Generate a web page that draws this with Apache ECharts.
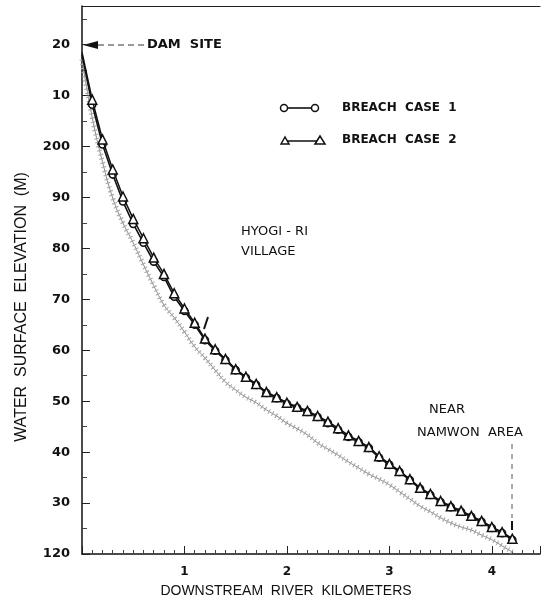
<!DOCTYPE html>
<html>
<head>
<meta charset="utf-8">
<script src="https://cdn.jsdelivr.net/npm/echarts@6/dist/echarts.min.js"></script>
<style>
  html, body { margin: 0; padding: 0; background: #fff; }
  #chart { width: 544px; height: 603px; }
</style>
</head>
<body>
<div id="chart"></div>
<script>
// distance downstream (km)
const km = [0, 0.1, 0.2, 0.3, 0.4, 0.5, 0.6, 0.7, 0.8, 0.9, 1.0, 1.1, 1.2, 1.3, 1.4, 1.5, 1.6, 1.7, 1.8, 1.9,
  2.0, 2.1, 2.2, 2.3, 2.4, 2.5, 2.6, 2.7, 2.8, 2.9, 3.0, 3.1, 3.2, 3.3, 3.4, 3.5, 3.6, 3.7, 3.8, 3.9, 4.0, 4.1, 4.2]
// water surface elevation (m)
const case1 = [218.0, 208.2, 200.4, 194.5, 189.2, 184.8, 181.1, 177.4, 174.4, 170.5, 167.7, 165.0, 162.0, 159.9, 158.1,
  156.1, 154.6, 153.2, 151.6, 150.6, 149.5, 148.7, 147.9, 146.9, 145.7, 144.4, 143.0, 142.0, 140.8, 138.9, 137.5,
  136.1, 134.5, 132.8, 131.6, 130.2, 129.2, 128.3, 127.3, 126.3, 125.1, 124.1, 122.8]
const case2 = [218.5, 209.2, 201.4, 195.5, 190.2, 185.8, 182.0, 178.2, 175.0, 171.2, 168.2, 165.4, 162.3, 160.2, 158.3,
  156.3, 154.8, 153.4, 151.8, 150.8, 149.7, 148.9, 148.1, 147.1, 146.0, 144.7, 143.3, 142.2, 141.0, 139.2, 137.7,
  136.3, 134.7, 133.0, 131.8, 130.4, 129.4, 128.5, 127.5, 126.5, 125.3, 124.3, 123.0]
// hatched lower profile
const bed = [217.1, 205.7, 197.0, 189.9, 185.0, 181.1, 176.8, 172.7, 168.9, 166.4, 163.6, 160.7, 158.5, 156.1, 153.8,
  152.2, 150.8, 149.7, 148.3, 147.1, 145.7, 144.6, 143.4, 141.8, 140.6, 139.4, 138.1, 136.9, 135.7, 134.7, 133.6,
  132.2, 130.8, 129.4, 128.3, 127.1, 126.1, 125.3, 124.7, 123.7, 122.8, 121.6, 120.4]
// y tick labels as printed on the figure
const yTicks = [120, 130, 140, 150, 160, 170, 180, 190, 200, 210, 220]
const yTickText = ['120', '30', '40', '50', '60', '70', '80', '90', '200', '10', '20']

const chart = echarts.init(document.getElementById('chart'))
const pairs = (ys) => km.map((x, i) => [x, ys[i]])
const withMarks = (ys) => pairs(ys).map((p, i) => i === 0 ? { value: p, symbol: 'none' } : p)
const boldFont = 'bold 13px "DejaVu Sans"'

chart.setOption({
  animation: false,
  grid: { left: 82, top: 6, right: 4, bottom: 49 },
  xAxis: [{
    type: 'value',
    min: 0,
    max: 4.47,
    interval: 1,
    name: 'DOWNSTREAM  RIVER  KILOMETERS',
    nameLocation: 'middle',
    nameGap: 30,
    nameTextStyle: { fontFamily: 'Liberation Sans', fontSize: 14, color: '#111', padding: [0, 50, 0, 0] },
    axisLine: { lineStyle: { color: '#111', width: 1.5 } },
    axisTick: { inside: true, length: 8, lineStyle: { color: '#222' } },
    minorTick: { show: true, splitNumber: 10, length: 4, lineStyle: { color: '#444' } },
    axisLabel: {
      margin: 12, color: '#111', fontFamily: 'DejaVu Sans', fontWeight: 'bold', fontSize: 12,
      formatter: (v) => (v > 0 && Math.abs(v - Math.round(v)) < 1e-6 ? String(Math.round(v)) : ''),
      showMaxLabel: false
    },
    splitLine: { show: false }
  }, {
    type: 'value', position: 'top', min: 0, max: 4.47,
    axisLine: { show: true, lineStyle: { color: '#222', width: 1.2 } },
    axisTick: { show: false }, axisLabel: { show: false }, splitLine: { show: false }
  }],
  yAxis: {
    type: 'value',
    min: 120,
    max: 227.6,
    interval: 10,
    axisLine: { show: true, lineStyle: { color: '#111', width: 1.5 } },
    axisTick: { inside: true, length: 8, lineStyle: { color: '#222' } },
    minorTick: { show: true, splitNumber: 2, length: 5, lineStyle: { color: '#444' } },
    axisLabel: {
      margin: 12, color: '#111', fontFamily: 'DejaVu Sans', fontWeight: 'bold', fontSize: 13,
      showMaxLabel: false,
      formatter: (v) => {
        const i = yTicks.indexOf(Math.round(v))
        return i >= 0 && Math.abs(v - Math.round(v)) < 1e-6 ? yTickText[i] : ''
      }
    },
    splitLine: { show: false }
  },
  series: [
    {
      name: 'bed line',
      type: 'line',
      data: pairs(bed),
      showSymbol: false,
      smooth: true,
      lineStyle: { color: '#888', width: 1 },
      z: 1
    },
    {
      name: 'bed hatch',
      type: 'line',
      data: pairs(bed),
      showSymbol: false,
      smooth: true,
      lineStyle: { color: '#aaa', width: 5, type: [1.2, 3] },
      z: 1
    },
    {
      name: 'BREACH CASE 1',
      type: 'line',
      data: withMarks(case1),
      symbol: 'circle',
      symbolSize: 7,
      itemStyle: { color: '#fff', borderColor: '#111', borderWidth: 1.6 },
      lineStyle: { color: '#111', width: 1.6 },
      z: 3
    },
    {
      name: 'BREACH CASE 2',
      type: 'line',
      data: withMarks(case2),
      symbol: 'triangle',
      symbolSize: 9,
      itemStyle: { color: '#fff', borderColor: '#111', borderWidth: 1.5 },
      lineStyle: { color: '#111', width: 1.5 },
      z: 4
    }
  ],
  graphic: [
    // y axis title
    { type: 'text', x: 22, y: 307, rotation: Math.PI / 2,
      style: { text: 'WATER  SURFACE  ELEVATION  (M)', font: '16px "Liberation Sans"', fill: '#111', textAlign: 'center', textVerticalAlign: 'middle' } },
    // legend
    { type: 'line', shape: { x1: 284, y1: 108, x2: 315, y2: 108 }, style: { stroke: '#111', lineWidth: 1.6 } },
    { type: 'circle', shape: { cx: 284, cy: 108, r: 3.5 }, style: { fill: '#fff', stroke: '#111', lineWidth: 1.5 } },
    { type: 'circle', shape: { cx: 315, cy: 108, r: 3.5 }, style: { fill: '#fff', stroke: '#111', lineWidth: 1.5 } },
    { type: 'text', x: 342, y: 108, style: { text: 'BREACH  CASE  1', font: 'bold 12px "DejaVu Sans"', fill: '#111', textVerticalAlign: 'middle' } },
    { type: 'line', shape: { x1: 285, y1: 141, x2: 320, y2: 141 }, style: { stroke: '#111', lineWidth: 1.6 } },
    { type: 'polygon', shape: { points: [[281, 144], [285, 137], [289, 144]] }, style: { fill: '#fff', stroke: '#111', lineWidth: 1.5 } },
    { type: 'polygon', shape: { points: [[315, 144], [320, 136], [325, 144]] }, style: { fill: '#fff', stroke: '#111', lineWidth: 1.5 } },
    { type: 'text', x: 342, y: 140, style: { text: 'BREACH  CASE  2', font: 'bold 12px "DejaVu Sans"', fill: '#111', textVerticalAlign: 'middle' } },
    // dam site
    { type: 'polygon', shape: { points: [[83, 45], [98, 41], [98, 49]] }, style: { fill: '#111' } },
    { type: 'line', shape: { x1: 98, y1: 45, x2: 144, y2: 45 }, style: { stroke: '#333', lineWidth: 1, lineDash: [6, 4] } },
    { type: 'text', x: 147, y: 45, style: { text: 'DAM  SITE', font: boldFont, fill: '#111', textVerticalAlign: 'middle' } },
    // Hyogi-ri
    { type: 'text', x: 241, y: 232, style: { text: 'HYOGI - RI', font: '13px "DejaVu Sans"', fill: '#111', textVerticalAlign: 'middle' } },
    { type: 'text', x: 241, y: 252, style: { text: 'VILLAGE', font: '13px "DejaVu Sans"', fill: '#111', textVerticalAlign: 'middle' } },
    { type: 'line', shape: { x1: 204, y1: 329, x2: 208, y2: 317 }, style: { stroke: '#111', lineWidth: 2 } },
    // Namwon
    { type: 'text', x: 447, y: 410, style: { text: 'NEAR', font: '13px "DejaVu Sans"', fill: '#111', textAlign: 'center', textVerticalAlign: 'middle' } },
    { type: 'text', x: 470, y: 433, style: { text: 'NAMWON  AREA', font: '13px "DejaVu Sans"', fill: '#111', textAlign: 'center', textVerticalAlign: 'middle' } },
    { type: 'line', shape: { x1: 512, y1: 444, x2: 512, y2: 518 }, style: { stroke: '#555', lineWidth: 1, lineDash: [5, 5] } },
    { type: 'line', shape: { x1: 512, y1: 521, x2: 512, y2: 530 }, style: { stroke: '#111', lineWidth: 2 } }
  ]
})
</script>
</body>
</html>
